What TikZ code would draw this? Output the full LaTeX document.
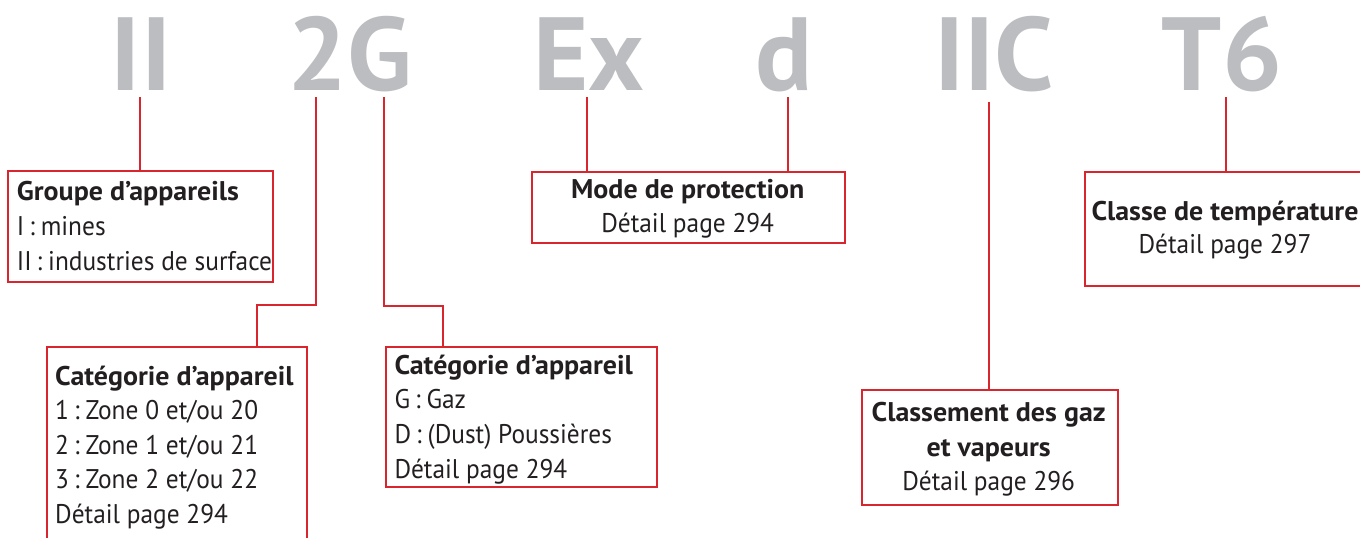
\documentclass[tikz,border=0pt]{standalone}
\usepackage{fontspec}
\setmainfont{PT Sans}[FakeStretch=0.94, BoldFeatures={FakeStretch=1.035}]
\newfontfamily\bigfont{PT Sans Bold}[FakeStretch=1.02]
\newcommand\excolon{\hspace{5pt}:\hspace{6pt}}
\definecolor{exred}{HTML}{D9252E}
\definecolor{exgray}{HTML}{BCBDC0}
\definecolor{extext}{HTML}{231F20}
\begin{document}
\begin{tikzpicture}[x=1pt,y=-1pt,
  big/.style={font=\fontsize{104}{104}\bigfont, text=exgray, inner sep=0, anchor=base},
  box/.style={draw=exred, line width=2pt, inner sep=0, anchor=north west},
  conn/.style={draw=exred, line width=2pt},
  tl/.style={font=\fontsize{27}{30}\selectfont\bfseries, text=extext, inner sep=0, anchor=base west},
  tx/.style={font=\fontsize{27}{30}\selectfont, text=extext, inner sep=0, anchor=base west},
  tlc/.style={tl, anchor=base},
  txc/.style={tx, anchor=base}]
\useasboundingbox (0,0) rectangle (1360,538);
% big code letters
\node[big] (gII) at (141,90) {II};
\node[big] (g2G) at (350,90) {2G};
\node[big] (gEx) at (589,90) {Ex};
\node[big] (gd) at (784.5,90) {d};
\node[big] (gIIC) at (994,90) {IIC};
\node[big] (gT6) at (1222,90) {T6};
% connector top ends
\coordinate (cII) at (139.5,97);
\coordinate (c2) at (316,97);
\coordinate (cG) at (384,97);
\coordinate (cEx) at (587.3,97);
\coordinate (cd) at (787.7,97);
\coordinate (cIIC) at (988.5,101.7);
\coordinate (cT6) at (1225.7,97);
% boxes
\node[box, minimum width=264.4pt, minimum height=110.7pt] (grp) at (7.3,170) {};
\node[box, minimum width=260pt, minimum height=220pt] (cat1) at (46,345.7) {};
\node[box, minimum width=271pt, minimum height=140pt] (catG) at (385,346) {};
\node[box, minimum width=312.7pt, minimum height=71pt] (mode) at (531.3,170.7) {};
\node[box, minimum width=256pt, minimum height=115pt] (gaz) at (860.7,389.3) {};
\node[box, minimum width=283pt, minimum height=114.3pt] (temp) at (1084,170.7) {};
% connectors
\draw[conn] (cII) -- (cII |- grp.north);
\draw[conn] (c2) -- (316,305) -| (cat1.north -| 256.7,0);
\draw[conn] (cG) -- (384,305.5) -| (catG.north -| 443.3,0);
\draw[conn] (cEx) -- (cEx |- mode.north);
\draw[conn] (cd) -- (cd |- mode.north);
\draw[conn] (cIIC) -- (cIIC |- gaz.north);
\draw[conn] (cT6) -- (cT6 |- temp.north);
% texts: Groupe
\node[tl] (grp1) at (16.7,200) {Groupe d’appareils};
\node[tx] (grp2) at (16.7,235) {I\excolon mines};
\node[tx] (grp3) at (16.7,270) {II\excolon industries de surface};
% Categorie 1
\node[tl] (c1a) at (55,385) {Catégorie d’appareil};
\node[tx] (c1b) at (55,419.6) {1\excolon Zone 0 et/ou 20};
\node[tx] (c1c) at (55,454.2) {2\excolon Zone 1 et/ou 21};
\node[tx] (c1d) at (55,488.8) {3\excolon Zone 2 et/ou 22};
\node[tx] (c1e) at (55,523.4) {Détail page 294};
% Categorie G
\node[tl] (cGa) at (394.3,374) {Catégorie d’appareil};
\node[tx] (cGb) at (394.3,408.7) {G\excolon Gaz};
\node[tx] (cGc) at (394.3,443.3) {D\excolon (Dust) Poussières};
\node[tx] (cGd) at (394.3,478) {Détail page 294};
% Mode
\node[tlc] (mo1) at (687.7,198) {Mode de protection};
\node[txc] (mo2) at (687.7,232.7) {Détail page 294};
% Gaz
\node[tlc] (ga1) at (988.7,421.7) {Classement des gaz};
\node[tlc] (ga2) at (988.7,456.7) {et vapeurs};
\node[txc] (ga3) at (988.7,490.7) {Détail page 296};
% Temperature
\node[tlc] (te1) at (1225,220) {Classe de température};
\node[txc] (te2) at (1225,253.3) {Détail page 297};
\end{tikzpicture}
\end{document}
